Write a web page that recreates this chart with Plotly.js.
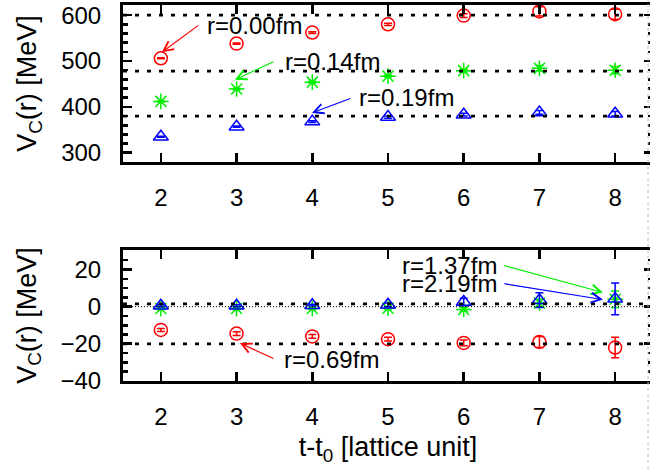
<!DOCTYPE html>
<html>
<head>
<meta charset="utf-8">
<script src="https://cdn.plot.ly/plotly-3.0.1.min.js"></script>
<style>
html,body{margin:0;padding:0;overflow:hidden;background:#fff;width:650px;height:471px;}
#chart{width:656px;height:471px;}
</style>
</head>
<body>
<div id="chart"></div>
<script>
// lattice time separations
const tVals = [2, 3, 4, 5, 6, 7, 8];
const xTickLabels = ['2','3','4','5','6','7','8'];

// upper panel: short distances
const r000 = [506, 538, 562, 580, 599, 608, 602];
const r000Err = [1, 1.5, 2, 2.5, 4, 10, 11];
const r014 = [412, 439, 454, 467, 479, 484, 480];
const r014Err = [1, 1.5, 2, 2, 3, 6, 8];
const r019 = [335, 357, 368, 378, 383, 388, 385];
const r019Err = [1, 1.5, 2, 2.5, 3, 4, 5];
const topPlateaus = [600, 478, 380];

// lower panel: long distances
const r069 = [-12.5, -14.5, -16, -17.5, -19.5, -19, -22];
const r069Err = [0.8, 1, 1, 1, 1.5, 3, 5.5];
const r137 = [-1, -1, -1, -0.8, -1.5, 2, 4];
const r137Err = [0.5, 0.5, 0.5, 0.5, 1, 2, 4.5];
const r219 = [0.5, 0.5, 0.8, 1, 2.5, 3.5, 4.2];
const r219Err = [0.5, 0.5, 0.5, 1, 2, 4, 8.5];
const bottomPlateaus = [1.5, -20];
const zeroLine = [0];

const RED = '#ff0000', GREEN = '#00ee00', BLUE = '#0000ff';
const FONT = 'Liberation Sans, Arial, Helvetica, sans-serif';
const FS = 24;
const TFS = 27;

function series(y, err, color, symbol, xa, ya, size) {
  return {
    x: tVals, y: y, type: 'scatter', mode: 'markers',
    xaxis: xa, yaxis: ya, showlegend: false, cliponaxis: false,
    marker: {symbol: symbol, size: size, color: color, line: {color: color, width: 1.5}},
    error_y: {type: 'data', array: err, visible: true, color: color, thickness: 1.5, width: 4}
  };
}

const data = [
  series(r000, r000Err, RED, 'circle-open', 'x2', 'y2', 13),
  series(r014, r014Err, GREEN, 'asterisk-open', 'x2', 'y2', 13),
  series(r019, r019Err, BLUE, 'triangle-up-open', 'x2', 'y2', 13),
  series(r069, r069Err, RED, 'circle-open', 'x', 'y', 13),
  series(r137, r137Err, GREEN, 'asterisk-open', 'x', 'y', 13),
  series(r219, r219Err, BLUE, 'triangle-up-open', 'x', 'y', 13)
];

const shapes = [];
topPlateaus.forEach(v => shapes.push({type: 'line', xref: 'x2 domain', yref: 'y2', x0: 0, x1: 1, y0: v, y1: v,
  layer: 'above', line: {color: '#000', width: 2.8, dash: '4px,8px'}}));
bottomPlateaus.forEach(v => shapes.push({type: 'line', xref: 'x domain', yref: 'y', x0: 0, x1: 1, y0: v, y1: v,
  layer: 'above', line: {color: '#000', width: 2.8, dash: '4px,8px'}}));
zeroLine.forEach(v => shapes.push({type: 'line', xref: 'x domain', yref: 'y', x0: 0, x1: 1, y0: v, y1: v,
  layer: 'above', line: {color: '#000', width: 1, dash: '1px,2px'}}));
// page edge marker
shapes.push({type: 'line', xref: 'paper', yref: 'paper', x0: 0.9906, x1: 0.9906, y0: -0.25, y1: 1.02,
  layer: 'above', line: {color: '#bbbbbb', width: 1, dash: '3px,3px'}});

function label(text, x, y, xa, ya, h) {
  const a = {text: text, x: x, y: y, xref: xa, yref: ya, xanchor: 'left', yanchor: 'middle',
    showarrow: false, font: {family: FONT, size: FS, color: '#000'}};
  if (h) { a.height = h; }
  return a;
}
function arrow(color, x, y, ax, ay, xa, ya) {
  return {text: '', x: x, y: y, ax: ax, ay: ay, xref: xa, yref: ya, axref: xa, ayref: ya,
    showarrow: true, arrowhead: 5, arrowsize: 1.6, arrowwidth: 1.2, arrowcolor: color, standoff: 0};
}

const annotations = [
  label('r=0.00fm', 2.58, 578, 'x2', 'y2'),
  arrow(RED, 2.013, 519, 2.515, 580, 'x2', 'y2'),
  label('r=0.14fm', 3.61, 498, 'x2', 'y2'),
  arrow(GREEN, 2.978, 459, 3.506, 500, 'x2', 'y2'),
  label('r=0.19fm', 4.59, 419.6, 'x2', 'y2'),
  arrow(BLUE, 3.995, 387, 4.523, 419.6, 'x2', 'y2'),
  label('r=1.37fm', 5.157, 22.3, 'x', 'y', 19),
  label('r=2.19fm', 5.157, 12.5, 'x', 'y', 19),
  arrow(GREEN, 7.839, 7.6, 6.518, 22.3, 'x', 'y'),
  arrow(BLUE, 7.839, 3.8, 6.518, 12.5, 'x', 'y'),
  label('r=0.69fm', 3.6, -28.3, 'x', 'y'),
  arrow(RED, 3.044, -19.6, 3.506, -28.3, 'x', 'y')
];

const axisCommon = {
  showline: true, linecolor: '#000', linewidth: 3, mirror: 'allticks',
  ticks: 'inside', ticklen: 9, tickwidth: 2.7, tickcolor: '#000',
  showgrid: false, zeroline: false,
  tickfont: {family: FONT, size: FS, color: '#000'}
};

const xCommon = Object.assign({}, axisCommon, {
  range: [1.5, 8.5], tickmode: 'array', tickvals: tVals, ticktext: xTickLabels,
  ticklabelstandoff: 12
});

const layout = {
  width: 656, height: 471,
  margin: {l: 123, r: 3, t: 5, b: 90},
  paper_bgcolor: '#fff', plot_bgcolor: '#fff',
  font: {family: FONT, size: FS, color: '#000'},
  xaxis: Object.assign({}, xCommon, {anchor: 'y',
    title: {text: 't-t<sub>0</sub> [lattice unit]', font: {family: FONT, size: TFS, color: '#000'}, standoff: 9}}),
  xaxis2: Object.assign({}, xCommon, {anchor: 'y2'}),
  yaxis: Object.assign({}, axisCommon, {domain: [0, 0.3484], range: [-40, 30.5], dtick: 20, tick0: 0,
    anchor: 'x', ticklabelstandoff: 14,
    minor: {ticks: 'inside', dtick: 5, ticklen: 5, tickwidth: 2.5, tickcolor: '#000', showgrid: false},
    title: {text: 'V<sub>C</sub>(r) [MeV]', font: {family: FONT, size: TFS, color: '#000'}, standoff: 17}}),
  yaxis2: Object.assign({}, axisCommon, {domain: [0.5824, 1], range: [280, 622], dtick: 100, tick0: 0,
    anchor: 'x2', ticklabelstandoff: 14,
    minor: {ticks: 'inside', dtick: 20, ticklen: 5, tickwidth: 2.5, tickcolor: '#000', showgrid: false},
    title: {text: 'V<sub>C</sub>(r) [MeV]', font: {family: FONT, size: TFS, color: '#000'}, standoff: 17}}),
  shapes: shapes,
  annotations: annotations
};

Plotly.newPlot('chart', data, layout, {displayModeBar: false, staticPlot: true});
</script>
</body>
</html>
